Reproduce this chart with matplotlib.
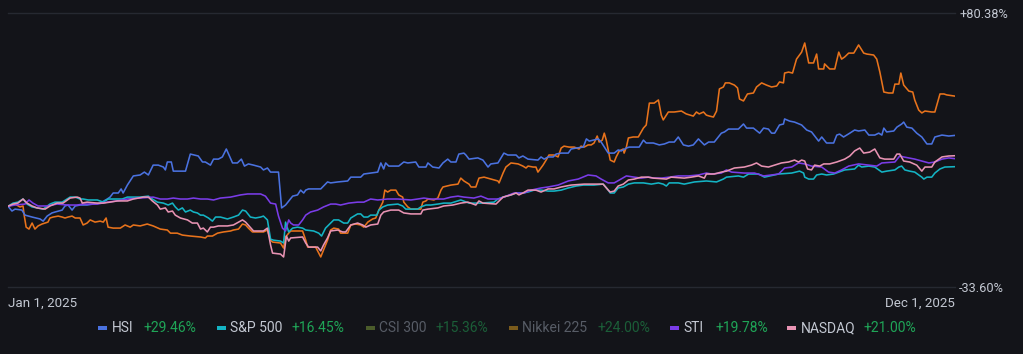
import matplotlib
matplotlib.use("Agg")
import matplotlib.pyplot as plt
from matplotlib.patches import Rectangle

# ---------------- data (days since Jan 1, 2025 ; % change) ----------------
hsi_days = [0, 1.4, 2.5, 4.9, 6.0, 8.5, 11.3, 12.4, 13.8, 15.5,
            16.6, 19.1, 20.1, 21.2, 22.6, 23.7, 25.4, 27.9, 30.0, 32.5,
            35.0, 36.0, 37.1, 38.9, 39.9, 40.6, 42.1, 44.2, 46.6, 48.1,
            49.5, 51.2, 53.0, 54.8, 55.5, 56.2, 57.6, 58.3, 62.6, 64.3,
            67.1, 68.6, 69.6, 71.4, 72.5, 74.2, 75.6, 77.0, 79.2, 80.9,
            82.3, 83.4, 84.8, 86.6, 89.1, 90.1, 91.5, 92.6, 95.4, 96.5,
            97.9, 100.4, 102.1, 103.2, 104.3, 105.0, 106.0, 110.3, 112.7, 113.8,
            116.3, 119.8, 120.9, 124.4, 125.5, 127.9, 130.4, 131.5, 132.5, 133.2,
            134.3, 137.8, 139.6, 141.0, 143.8, 144.9, 147.4, 148.1, 149.8, 152.0,
            153.4, 155.1, 156.2, 158.0, 159.0, 160.8, 161.5, 162.6, 165.7, 167.5,
            169.3, 170.3, 172.8, 174.9, 176.3, 179.2, 180.2, 181.6, 183.4, 186.9,
            188.0, 189.1, 190.5, 192.3, 193.3, 195.1, 197.6, 198.6, 200.4, 202.9,
            204.0, 205.0, 208.2, 209.2, 211.7, 213.8, 215.2, 216.3, 218.1, 219.1,
            222.6, 224.1, 225.1, 227.6, 229.7, 231.5, 233.2, 235.0, 236.4, 238.2,
            240.0, 241.7, 243.5, 244.6, 245.6, 247.1, 249.1, 251.6, 252.7, 254.1,
            257.6, 259.4, 260.5, 262.9, 265.1, 266.5, 268.2, 269.3, 270.4, 272.1,
            273.5, 273.9, 275.7, 277.4, 279.9, 281.7, 283.4, 285.9, 287.0, 288.7,
            291.2, 292.3, 293.3, 294.7, 296.9, 298.6, 300.0, 302.2, 303.6, 305.7,
            307.1, 308.2, 308.9, 309.9, 312.4, 313.5, 315.2, 315.9, 317.0, 318.8,
            320.5, 322.3, 324.1, 325.8, 326.9, 329.4, 331.8, 334.0]
hsi_vals = [0.0, -2.0, -1.2, -1.6, -3.7, -4.5, -5.3, -6.2, -4.1, -2.8,
            -2.4, -1.6, 0.1, 0.5, -1.6, 0.1, 0.5, 0.5, 0.9, 1.3,
            3.0, 3.8, 5.5, 5.5, 7.2, 5.5, 8.8, 12.6, 13.0, 14.2,
            13.0, 17.1, 17.1, 16.3, 15.1, 18.4, 18.4, 14.6, 14.6, 21.7,
            20.9, 18.4, 18.4, 17.1, 19.6, 19.6, 20.5, 23.8, 18.0, 18.0,
            19.6, 16.7, 17.6, 17.1, 16.3, 15.1, 15.9, 14.2, 14.2, -0.7,
            0.5, 4.2, 4.7, 6.7, 5.5, 6.7, 7.2, 7.2, 10.1, 9.7,
            10.1, 10.5, 12.1, 12.1, 13.4, 13.8, 14.2, 18.0, 15.5, 18.0,
            16.7, 16.7, 18.4, 18.0, 18.4, 16.3, 16.3, 18.0, 16.3, 15.9,
            18.0, 19.6, 18.4, 18.4, 21.7, 22.1, 21.3, 19.6, 20.1, 19.2,
            16.3, 17.6, 18.0, 22.1, 21.3, 21.3, 20.1, 20.9, 19.6, 19.2,
            20.5, 19.6, 20.5, 20.5, 21.7, 22.1, 22.1, 23.8, 24.2, 24.6,
            28.0, 27.1, 28.0, 26.7, 22.1, 22.1, 23.4, 23.0, 24.2, 24.6,
            24.6, 27.5, 26.3, 26.3, 25.5, 25.9, 26.7, 26.7, 28.8, 25.5,
            25.0, 25.5, 28.0, 26.7, 25.5, 26.7, 26.7, 30.4, 30.9, 32.1,
            32.1, 34.2, 32.5, 32.5, 30.4, 32.5, 32.1, 30.4, 30.4, 33.8,
            34.2, 36.3, 35.4, 35.0, 33.8, 31.7, 30.9, 27.1, 28.8, 26.3,
            26.3, 29.6, 30.0, 28.8, 30.4, 31.7, 31.3, 31.7, 29.6, 29.6,
            30.4, 29.6, 32.5, 30.9, 31.3, 32.9, 34.2, 35.0, 32.9, 32.5,
            30.4, 28.8, 25.9, 25.9, 28.8, 29.6, 29.2, 29.46]

main_days = [0, 2.5, 4.2, 5.3, 5.7, 6.4, 7.4, 8.5, 9.5, 10.6,
             12.0, 13.1, 14.1, 14.8, 15.9, 17.7, 19.1, 20.1, 21.2, 22.6,
             23.7, 25.4, 26.5, 27.9, 29.0, 30.7, 32.5, 33.6, 34.6, 35.3,
             37.1, 39.6, 41.3, 43.1, 44.2, 46.6, 49.1, 51.2, 53.7, 56.2,
             57.3, 59.7, 61.5, 64.3, 67.9, 69.6, 70.3, 72.1, 73.9, 76.0,
             78.5, 79.5, 81.3, 82.7, 83.8, 84.8, 86.2, 90.1, 91.5, 92.6,
             93.3, 96.1, 97.2, 97.9, 99.0, 99.7, 103.9, 105.0, 105.7, 108.5,
             110.3, 111.3, 112.7, 113.8, 114.9, 116.6, 117.3, 119.8, 120.9, 122.6,
             124.4, 125.5, 126.9, 128.6, 129.7, 130.8, 132.2, 132.9, 133.9, 135.0,
             136.8, 137.8, 139.2, 139.6, 141.0, 142.1, 145.6, 146.3, 147.4, 148.1,
             150.2, 151.6, 152.7, 153.4, 156.2, 158.7, 159.7, 160.8, 162.6, 163.3,
             165.0, 166.1, 167.9, 170.3, 172.8, 173.2, 174.6, 175.6, 177.4, 179.9,
             181.6, 182.7, 183.4, 185.2, 186.2, 186.9, 188.7, 189.8, 190.8, 192.6,
             194.0, 195.1, 196.1, 197.9, 199.7, 201.4, 202.1, 203.2, 204.6, 205.7,
             206.7, 207.8, 208.5, 209.6, 210.3, 211.0, 211.7, 212.4, 213.8, 214.5,
             215.6, 217.0, 217.3, 218.1, 218.8, 220.5, 222.3, 224.1, 225.1, 226.2,
             227.9, 229.4, 230.4, 231.1, 232.9, 235.0, 237.5, 239.2, 241.7, 242.8,
             243.8, 245.3, 246.3, 247.4, 248.8, 249.9, 250.9, 252.3, 253.0, 254.4,
             256.2, 257.3, 258.0, 259.4, 260.8, 262.9, 264.0, 265.8, 267.5, 269.3,
             271.1, 272.1, 273.5, 273.9, 275.3, 276.7, 278.1, 279.9, 281.0, 282.4,
             284.1, 285.2, 285.9, 287.7, 288.0, 289.8, 291.6, 293.0, 294.0, 295.1,
             296.5, 298.3, 300.0, 301.8, 302.9, 305.3, 306.4, 307.5, 308.9, 310.6,
             312.1, 312.8, 314.2, 314.9, 315.9, 317.7, 319.1, 319.8, 321.2, 322.3,
             323.4, 325.8, 326.9, 328.7, 330.1, 331.1, 334.0]
main_vals = [0.0, 0.9, -0.3, 0.1, -3.7, -8.7, -9.5, -7.0, -9.5, -8.2,
             -7.4, -7.0, -6.6, -4.9, -4.5, -4.1, -4.5, -4.9, -4.5, -4.1,
             -4.9, -4.9, -7.8, -7.0, -5.7, -6.6, -6.2, -6.6, -4.9, -8.7,
             -9.1, -9.1, -7.8, -8.7, -7.8, -8.2, -7.4, -8.2, -9.5, -9.9,
             -11.2, -11.2, -12.0, -12.4, -12.8, -13.2, -12.4, -12.4, -11.2, -10.7,
             -10.3, -9.9, -9.5, -7.4, -7.8, -9.1, -10.7, -10.7, -9.9, -14.1,
             -14.9, -15.3, -17.4, -12.8, -11.2, -10.3, -10.3, -14.1, -17.0, -17.0,
             -21.1, -18.2, -14.1, -9.9, -9.1, -9.5, -11.2, -11.2, -7.8, -7.4,
             -7.8, -8.7, -6.6, -5.3, -4.9, -1.6, 1.7, 6.7, 5.9, 6.7,
             6.7, 4.7, 3.8, 1.7, -0.3, -1.2, -1.2, 1.7, 2.2, 3.0,
             2.6, 3.4, 6.7, 8.0, 8.8, 9.2, 11.7, 10.5, 9.2, 8.0,
             8.0, 11.7, 12.1, 11.3, 10.5, 9.7, 13.8, 16.3, 18.0, 17.6,
             16.7, 15.9, 16.7, 16.3, 16.3, 14.2, 17.1, 19.2, 21.3, 21.3,
             20.5, 24.2, 25.0, 24.6, 24.6, 23.8, 25.0, 24.6, 25.5, 25.5,
             26.3, 29.2, 26.7, 27.5, 30.4, 27.5, 23.4, 19.2, 18.4, 20.5,
             23.0, 23.8, 22.1, 24.6, 28.4, 28.8, 28.8, 32.5, 33.8, 42.9,
             42.9, 44.2, 37.9, 35.9, 39.2, 39.2, 39.6, 38.4, 37.5, 39.2,
             38.4, 39.2, 37.9, 37.5, 37.1, 39.6, 48.8, 49.6, 51.3, 51.3,
             50.4, 49.2, 44.6, 43.8, 46.7, 47.1, 49.6, 51.3, 50.4, 49.6,
             50.0, 51.7, 51.3, 55.4, 55.8, 55.4, 61.2, 64.1, 67.9, 59.6,
             59.6, 63.3, 57.1, 57.1, 59.2, 57.1, 57.1, 64.1, 61.2, 62.1,
             63.7, 63.7, 67.1, 63.7, 63.3, 62.9, 61.2, 55.8, 47.5, 47.1,
             47.1, 50.8, 50.8, 55.4, 50.4, 47.9, 47.5, 44.2, 40.0, 38.8,
             39.6, 39.2, 39.2, 46.7, 46.7, 46.3, 45.8]

spx_days = [0, 1.8, 3.5, 5.3, 6.7, 8.5, 10.2, 12.4, 14.8, 16.6,
            19.1, 21.9, 23.7, 25.4, 26.5, 28.3, 31.5, 33.6, 35.3, 37.8,
            40.3, 42.1, 44.2, 46.6, 49.5, 50.9, 52.7, 54.8, 56.5, 58.0,
            59.0, 60.1, 61.5, 62.6, 64.3, 65.4, 66.8, 67.9, 68.9, 70.7,
            72.1, 73.2, 74.9, 77.4, 79.5, 81.3, 82.7, 83.8, 85.5, 87.3,
            89.1, 90.1, 91.5, 92.6, 93.6, 96.1, 97.2, 97.9, 99.0, 100.4,
            102.1, 103.9, 105.0, 107.8, 109.6, 110.6, 112.0, 113.8, 114.9, 116.6,
            118.4, 119.8, 120.9, 123.3, 124.4, 125.5, 126.9, 127.9, 130.1, 130.8,
            132.2, 133.9, 137.5, 139.2, 140.3, 141.4, 144.5, 145.6, 147.4, 149.1,
            151.6, 153.7, 156.2, 159.7, 162.6, 165.7, 166.8, 171.4, 172.8, 174.6,
            177.4, 179.2, 181.6, 183.4, 185.5, 188.0, 190.5, 192.6, 195.1, 197.6,
            200.4, 202.9, 206.7, 209.9, 211.7, 212.4, 213.8, 215.2, 217.0, 218.8,
            220.9, 224.1, 226.9, 229.4, 231.1, 232.2, 233.2, 236.4, 238.5, 242.1,
            246.3, 249.9, 252.3, 253.4, 257.6, 259.4, 261.2, 264.7, 266.8, 271.8,
            276.4, 279.2, 280.6, 281.0, 282.4, 284.1, 285.2, 287.0, 288.7, 291.2,
            293.0, 295.1, 298.6, 300.0, 301.1, 303.6, 305.7, 308.2, 309.9, 312.8,
            314.2, 315.2, 316.3, 318.0, 319.8, 322.3, 323.0, 324.1, 325.8, 326.9,
            328.7, 330.4, 334.0]
spx_vals = [0.0, 1.3, 1.7, 3.0, 0.9, -0.3, -0.7, -1.2, 0.9, 1.7,
            1.7, 3.8, 3.8, 3.0, 3.0, 2.6, 2.6, 1.7, 3.0, 3.0,
            3.0, 3.8, 3.8, 3.8, 4.2, 3.0, 1.7, 1.3, 0.5, 1.3,
            -0.3, -1.6, -0.7, -2.4, -1.6, -2.4, -2.8, -3.7, -3.7, -4.9,
            -6.2, -4.5, -4.5, -5.3, -4.5, -3.7, -1.6, -2.0, -4.5, -4.9,
            -4.5, -4.1, -5.7, -13.7, -14.1, -14.5, -15.3, -6.6, -10.7, -9.1,
            -8.7, -9.1, -9.9, -10.3, -11.2, -12.4, -9.1, -7.0, -5.7, -5.7,
            -7.0, -7.0, -4.9, -3.2, -3.2, -4.5, -4.5, -3.7, -3.7, -1.6,
            -0.3, 0.5, 0.9, 0.1, -1.2, -1.2, -1.2, -0.3, 0.5, 0.5,
            0.9, 1.3, 1.3, 2.6, 1.3, 1.3, 1.3, 1.7, 3.0, 3.8,
            4.7, 5.5, 5.5, 5.9, 6.7, 6.7, 6.3, 6.3, 6.7, 7.6,
            8.4, 8.8, 8.8, 9.2, 6.7, 5.5, 5.5, 7.6, 8.0, 9.2,
            9.7, 9.7, 9.2, 9.7, 9.2, 8.4, 9.7, 9.7, 9.2, 10.1,
            10.5, 10.1, 11.3, 12.1, 12.6, 12.1, 13.4, 13.4, 12.1, 13.4,
            13.8, 14.6, 13.8, 12.1, 11.3, 11.3, 13.0, 13.4, 13.0, 13.4,
            14.2, 15.1, 15.5, 17.1, 16.3, 16.7, 16.3, 14.2, 14.6, 15.1,
            16.3, 16.7, 15.1, 14.6, 14.2, 12.1, 11.3, 12.1, 12.1, 13.8,
            15.5, 16.3, 16.45]

sti_days = [0, 2.5, 6.0, 7.4, 8.8, 10.6, 13.8, 17.3, 20.9, 24.4,
            26.5, 31.5, 35.0, 38.5, 42.1, 46.6, 51.2, 53.7, 56.2, 58.3,
            60.8, 63.3, 65.4, 67.9, 70.3, 72.5, 74.9, 78.5, 82.0, 84.5,
            89.1, 90.8, 92.6, 94.4, 95.4, 96.8, 97.9, 99.0, 99.7, 100.7,
            102.5, 103.9, 105.0, 106.7, 109.2, 111.3, 113.8, 115.6, 117.3, 120.2,
            123.3, 125.5, 127.9, 130.4, 133.9, 137.5, 142.1, 144.5, 146.7, 149.1,
            153.7, 156.2, 158.7, 160.8, 164.3, 166.8, 169.3, 172.8, 174.9, 178.5,
            182.0, 184.5, 188.0, 190.5, 194.0, 197.6, 201.1, 204.6, 207.4, 209.2,
            211.7, 213.8, 215.6, 218.1, 220.9, 223.4, 225.8, 227.9, 230.4, 233.2,
            236.4, 240.0, 243.5, 246.3, 248.1, 251.6, 253.4, 255.2, 259.7, 263.3,
            266.5, 269.3, 271.8, 273.9, 276.4, 278.8, 281.0, 283.4, 287.0, 289.4,
            291.6, 294.0, 296.5, 300.0, 303.6, 306.4, 308.2, 312.8, 314.5, 315.9,
            319.8, 322.3, 324.8, 326.9, 329.4, 331.8, 334.0]
sti_vals = [0.0, 0.5, 0.9, 2.6, 1.3, 0.1, 0.1, 0.9, 0.5, 0.5,
            0.9, 0.9, 1.7, 2.2, 3.0, 3.4, 3.8, 3.0, 3.0, 3.4,
            3.0, 3.0, 3.4, 3.0, 3.0, 2.6, 3.4, 3.8, 4.7, 5.1,
            5.1, 4.2, 1.3, 0.9, -4.1, -9.1, -10.3, -5.7, -7.0, -7.8,
            -7.8, -5.7, -3.7, -2.4, -1.6, -0.3, 0.9, 0.9, 0.5, 1.3,
            1.7, 1.7, 3.0, 2.6, 3.0, 3.0, 2.6, 3.0, 3.4, 3.0,
            3.0, 3.8, 4.2, 3.8, 3.4, 4.2, 3.0, 3.0, 3.8, 5.5,
            5.5, 6.7, 7.6, 8.0, 8.8, 10.5, 11.3, 13.0, 12.6, 11.3,
            9.7, 9.7, 10.9, 12.6, 12.1, 11.7, 12.1, 11.7, 11.7, 12.1,
            12.6, 12.6, 13.0, 13.8, 13.4, 13.8, 15.1, 14.2, 13.8, 13.8,
            12.6, 13.0, 13.4, 15.9, 16.3, 18.0, 17.6, 16.7, 16.3, 14.2,
            13.8, 15.1, 16.7, 17.6, 17.1, 16.7, 18.0, 18.4, 20.9, 20.5,
            19.6, 18.8, 18.0, 18.4, 19.6, 20.1, 19.78]

ndx_days = [0, 1.8, 3.5, 5.3, 6.7, 8.5, 10.2, 13.1, 14.8, 17.3,
            19.4, 21.9, 24.4, 25.4, 26.2, 27.9, 31.5, 33.6, 36.0, 38.5,
            42.1, 44.2, 47.7, 49.5, 50.9, 52.7, 53.7, 55.5, 56.5, 58.0,
            59.0, 60.8, 63.3, 65.0, 66.8, 67.9, 68.9, 70.3, 71.4, 72.5,
            74.2, 77.4, 79.5, 81.3, 82.7, 83.8, 86.6, 90.1, 91.5, 92.6,
            93.3, 96.1, 97.2, 98.2, 99.0, 99.7, 103.9, 105.0, 106.0, 109.2,
            110.3, 111.3, 112.7, 113.8, 116.3, 118.0, 119.1, 120.9, 123.3, 125.1,
            126.2, 127.9, 130.4, 131.5, 132.5, 135.0, 137.8, 139.6, 142.1, 145.6,
            146.3, 148.1, 151.6, 153.7, 156.9, 159.7, 162.2, 164.0, 165.0, 166.1,
            167.5, 172.1, 174.6, 177.4, 179.2, 180.2, 181.6, 183.4, 186.2, 188.0,
            190.5, 192.6, 195.1, 198.6, 203.2, 209.9, 211.7, 212.4, 213.8, 215.2,
            217.0, 218.8, 220.9, 223.4, 225.8, 227.6, 232.2, 233.9, 238.5, 241.0,
            243.5, 245.6, 246.3, 249.1, 251.6, 253.4, 256.2, 259.7, 262.2, 264.0,
            265.8, 268.2, 270.4, 272.8, 275.3, 277.4, 278.8, 279.9, 281.0, 282.0,
            283.4, 284.5, 286.3, 287.7, 289.8, 292.3, 295.1, 296.9, 298.6, 300.4,
            301.8, 303.9, 305.7, 307.5, 309.2, 312.4, 313.5, 314.5, 315.9, 318.0,
            320.5, 322.3, 323.4, 325.8, 326.9, 329.4, 331.8, 334.0]
ndx_vals = [0.0, 0.9, 1.3, 3.0, 1.3, 0.1, -0.7, -1.2, 0.1, 1.3,
            1.3, 3.4, 3.8, 3.4, 1.3, 1.7, 1.3, 1.3, 1.7, 2.2,
            2.2, 3.0, 3.8, 3.8, 2.2, 0.5, -1.2, -0.7, -2.4, -2.0,
            -3.7, -4.9, -5.7, -7.0, -7.0, -9.5, -9.1, -10.7, -8.7, -8.7,
            -8.2, -8.2, -7.8, -6.6, -5.7, -6.6, -10.3, -10.3, -9.1, -16.1,
            -19.5, -19.9, -21.1, -12.4, -14.5, -13.2, -12.8, -15.3, -17.0, -17.0,
            -18.6, -16.1, -13.2, -10.3, -9.9, -10.7, -10.7, -7.8, -7.0, -7.8,
            -8.7, -7.8, -7.4, -3.7, -2.4, -1.6, -1.6, -2.8, -3.2, -3.2,
            -1.6, -1.2, -0.7, 0.1, 0.5, 1.3, 1.7, 0.9, 0.5, 2.2,
            1.3, 0.9, 3.8, 4.7, 5.5, 4.7, 5.5, 6.7, 6.7, 5.9,
            7.2, 7.2, 8.0, 8.8, 9.2, 9.2, 6.7, 5.9, 6.3, 8.4,
            9.2, 10.9, 11.3, 12.1, 12.1, 11.7, 11.3, 12.1, 11.7, 12.1,
            12.6, 11.7, 13.4, 13.4, 14.2, 14.6, 15.9, 16.3, 17.1, 18.0,
            16.7, 16.3, 17.1, 18.0, 18.4, 19.2, 18.4, 19.2, 18.8, 15.5,
            15.1, 17.1, 16.7, 17.6, 17.6, 18.4, 19.6, 20.9, 23.0, 24.2,
            22.1, 22.5, 23.8, 20.1, 19.6, 19.6, 21.7, 21.7, 18.8, 18.4,
            17.1, 14.6, 16.3, 16.3, 18.4, 20.5, 20.9, 21.0]

legend_names = ["HSI", "S&P 500", "CSI 300", "Nikkei 225", "STI", "NASDAQ"]
legend_values = ["+29.46%", "+16.45%", "+15.36%", "+24.00%", "+19.78%", "+21.00%"]
legend_active = [True, True, False, False, True, True]
y_min, y_max = -33.60, 80.38
x_labels = ["Jan 1, 2025", "Dec 1, 2025"]
x_end = 334

# ---------------- style ----------------
BG = "#131419"
GRID = "#262931"
TXT = "#c3c8d2"
DIM_TXT = "#575c66"
GREEN = "#1fa557"
DIM_GREEN = "#1b5e38"
C_MAIN = "#e8731c"
C_HSI = "#4a72e0"
C_SPX = "#14b4c4"
C_STI = "#7a3ce8"
C_NDX = "#e893b3"
legend_colors = [C_HSI, C_SPX, "#4b5c2b", "#7a5b1c", C_STI, C_NDX]

plt.rcParams["font.family"] = ["Roboto", "DejaVu Sans"]

W, H = 1023, 354
fig = plt.figure(figsize=(W / 100, H / 100), dpi=100, facecolor=BG)
ax = fig.add_axes([8 / W, 1 - 287 / H, 947 / W, 274 / H])
ax.set_facecolor(BG)

for d, v, c in [(main_days, main_vals, C_MAIN), (hsi_days, hsi_vals, C_HSI),
                (spx_days, spx_vals, C_SPX), (sti_days, sti_vals, C_STI),
                (ndx_days, ndx_vals, C_NDX)]:
    ax.plot(d, v, color=c, lw=1.15, solid_joinstyle="round", zorder=3)

ax.set_xlim(0, x_end)
ax.set_ylim(y_min, y_max)
for s in ax.spines.values():
    s.set_visible(False)
for yv in (y_min, y_max):
    ax.axhline(yv, color=GRID, lw=1.0, clip_on=False, zorder=1)

ax.yaxis.tick_right()
ax.set_yticks([y_min, y_max], [f"{y_min:.2f}%", f"+{y_max:.2f}%"])
ax.tick_params(axis="y", length=0, pad=3, labelcolor=TXT, labelsize=9.2)
ax.set_xticks([0, x_end], x_labels)
ax.tick_params(axis="x", length=0, pad=7, labelcolor=TXT, labelsize=9.6)
xl = ax.get_xticklabels()
xl[0].set_ha("left")
xl[1].set_ha("right")

# ---------------- legend ----------------
mark_x = [98, 217, 366, 509, 670, 787]
name_x = [112, 230, 379, 522, 683, 801]
val_x = [144, 291, 436, 597, 715, 864]
ly = 328
for i, name in enumerate(legend_names):
    act = legend_active[i]
    fig.patches.append(Rectangle((mark_x[i] / W, 1 - (ly + 2) / H), 9 / W, 4 / H,
                                 transform=fig.transFigure, color=legend_colors[i],
                                 lw=0))
    fig.text(name_x[i] / W, 1 - ly / H, name, color=TXT if act else DIM_TXT,
             fontsize=10, va="center", ha="left")
    fig.text(val_x[i] / W, 1 - ly / H, legend_values[i],
             color=GREEN if act else DIM_GREEN, fontsize=10, va="center", ha="left")

fig.savefig("out.png", dpi=100, facecolor=BG)
